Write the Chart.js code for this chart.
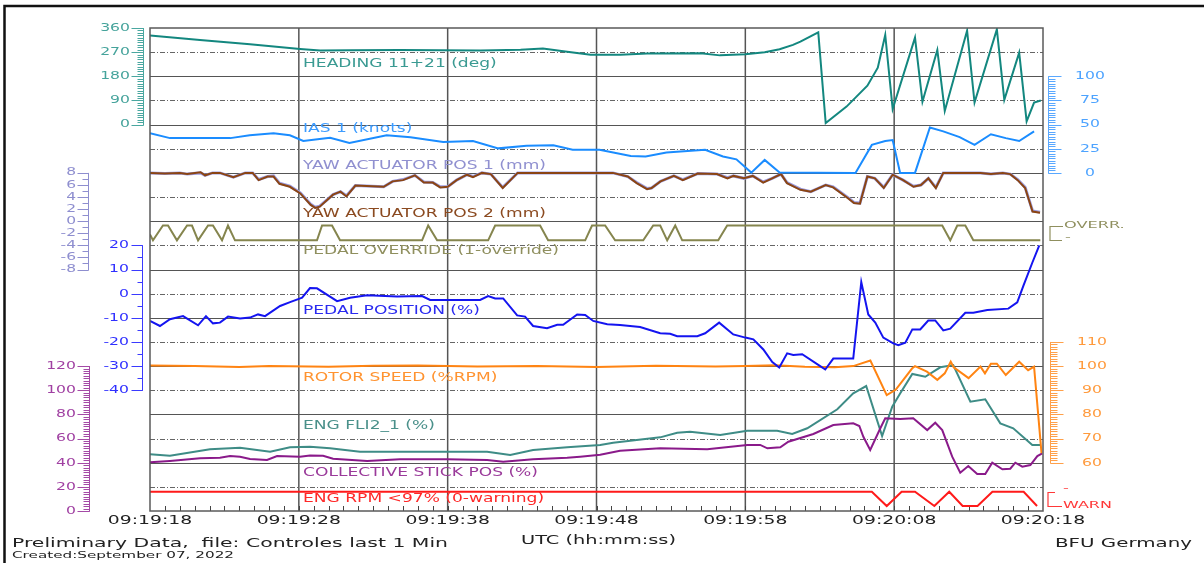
<!DOCTYPE html>
<html>
<head>
<meta charset="utf-8">
<title>Controles last 1 Min</title>
<script src="https://cdn.jsdelivr.net/npm/chart.js@4.4.1/dist/chart.umd.min.js"></script>
<style>
  html, body { margin: 0; padding: 0; background: #fff; }
  #wrap { position: relative; width: 1204px; height: 563px; }
</style>
</head>
<body>
<div id="wrap"><canvas id="flight" width="1204" height="563"></canvas></div>
<script>
// time axis: seconds after 09:19:18 UTC
const xTickSec = [0, 10, 20, 30, 40, 50, 60];
const xTickLabels = ['09:19:18', '09:19:28', '09:19:38', '09:19:48', '09:19:58', '09:20:08', '09:20:18'];

// HEADING 11+21 (deg)
const headT = [0, 3.36, 6.72, 10.08, 11.43, 13.44, 16.8, 19.5, 22.2, 24.9, 26.4, 27.9, 29.6, 31.6, 33.4, 37.0, 38.3, 40.0, 41.3, 42.3, 43.2, 43.7, 44.9, 45.4, 46.8, 48.2, 48.9, 49.4, 49.9, 51.4, 51.9, 52.9, 53.4, 54.9, 55.4, 56.9, 57.4, 58.4, 58.9, 59.4, 59.85];
const headV = [332, 315, 299, 282, 276, 277, 278, 277, 276, 279, 284, 272, 260, 260, 265, 266, 258, 262, 270, 281, 297, 309, 344, 6, 67, 145, 212, 334, 58, 324, 85, 278, 51, 350, 82, 355, 92, 268, 12, 82, 90];

// IAS 1 (knots)
const iasT = [0, 1.34, 5.4, 6.7, 8.3, 9.4, 10.3, 11.4, 12.1, 13.4, 15.9, 17.5, 19.7, 21.7, 23.4, 25.3, 27.1, 28.4, 30.2, 32.3, 33.3, 34.7, 37.3, 38.5, 39.4, 40.4, 41.3, 42.3, 47.4, 48.5, 49.4, 49.9, 50.4, 51.4, 52.4, 53.3, 54.4, 55.4, 56.5, 57.5, 58.4, 59.4];
const iasV = [41, 36, 36, 39, 41, 39, 33, 35, 36.4, 31, 39, 37, 32, 33, 25.4, 28, 28.5, 24, 24, 17.5, 17, 21, 24, 17, 14, 0.3, 13.4, 0.3, 0, 29, 33, 34, 0, 0, 47, 43, 37, 29, 40, 36, 33, 43];

// YAW ACTUATOR POS 1 / POS 2 (mm)
const yawT = [0, 1.0, 2.0, 2.5, 3.4, 3.7, 4.2, 4.7, 5.6, 6.4, 6.9, 7.3, 7.9, 8.3, 8.7, 9.4, 10.1, 10.8, 11.1, 11.4, 12.3, 12.8, 13.2, 13.8, 15.7, 16.3, 17.0, 17.8, 18.4, 19.0, 19.5, 20.0, 20.6, 21.3, 21.7, 22.3, 22.9, 23.7, 24.7, 30.3, 31.1, 32.1, 32.7, 33.4, 33.7, 34.3, 35.2, 35.8, 36.8, 38.1, 38.8, 39.2, 39.9, 40.5, 41.2, 41.8, 42.4, 42.8, 43.7, 44.4, 45.4, 45.9, 46.9, 47.3, 47.7, 48.2, 48.7, 49.3, 49.9, 50.6, 51.3, 51.8, 52.3, 52.8, 53.3, 55.8, 56.5, 57.3, 57.8, 58.3, 58.8, 59.3, 59.8];
const yaw1V = [8.0, 7.9, 8.0, 7.8, 8.0, 7.6, 8.0, 8.0, 7.3, 8.0, 8.0, 6.9, 7.4, 7.5, 6.3, 5.8, 4.7, 2.8, 2.3, 2.5, 4.4, 4.9, 4.2, 5.9, 5.7, 6.6, 6.9, 7.6, 6.5, 6.4, 5.7, 5.7, 6.8, 7.7, 7.4, 8.0, 7.8, 5.6, 8.0, 8.0, 8.0, 7.4, 6.4, 5.4, 5.5, 6.6, 7.5, 6.9, 7.9, 7.8, 7.2, 7.5, 7.1, 7.5, 6.5, 7.1, 7.8, 6.4, 5.3, 4.9, 6.0, 5.7, 3.9, 3.1, 3.0, 7.4, 7.1, 5.6, 7.7, 6.8, 5.8, 6.0, 7.1, 5.6, 8.0, 8.0, 7.8, 8.0, 7.8, 6.9, 5.6, 1.7, 1.5];
const yaw2V = [8.0, 7.9, 8.0, 7.8, 8.1, 7.6, 8.0, 8.0, 7.3, 8.0, 8.0, 6.8, 7.4, 7.4, 6.2, 5.7, 4.6, 2.7, 2.2, 2.4, 4.4, 4.9, 4.1, 5.9, 5.7, 6.6, 6.8, 7.6, 6.4, 6.4, 5.6, 5.7, 6.8, 7.7, 7.3, 8.0, 7.8, 5.5, 8.0, 8.0, 8.0, 7.4, 6.3, 5.3, 5.5, 6.6, 7.5, 6.8, 7.9, 7.8, 7.1, 7.5, 7.1, 7.5, 6.4, 7.1, 7.8, 6.3, 5.2, 4.9, 6.0, 5.6, 3.8, 3.0, 2.9, 7.4, 7.1, 5.5, 7.7, 6.8, 5.7, 6.0, 7.1, 5.5, 8.0, 8.0, 7.8, 8.0, 7.8, 6.8, 5.5, 1.6, 1.4];

// PEDAL OVERRIDE (1-override)
const ovrT = [0, 0.2, 0.87, 1.21, 1.81, 2.49, 2.82, 3.23, 3.9, 4.23, 4.84, 5.24, 5.71, 11.22, 11.56, 12.23, 12.77, 18.28, 18.69, 19.29, 22.72, 23.19, 26.21, 26.75, 29.24, 29.70, 30.58, 31.25, 33.14, 33.81, 34.28, 34.75, 35.29, 35.76, 38.18, 38.78, 53.23, 53.77, 54.24, 54.78, 55.32, 59.82];
const ovrV = [0.4, 0, 1, 1, 0, 1, 1, 0, 1, 1, 0, 1, 0, 0, 1, 1, 0, 0, 1, 0, 0, 1, 1, 0, 0, 1, 1, 0, 0, 1, 1, 0, 1, 0, 0, 1, 1, 0, 1, 1, 0, 0];

// PEDAL POSITION (%)
const pedT = [0, 0.67, 1.34, 2.22, 3.23, 3.76, 4.23, 4.70, 5.24, 6.05, 6.72, 7.26, 7.73, 8.74, 9.41, 10.22, 10.75, 11.22, 12.57, 13.44, 14.59, 16.60, 18.28, 18.82, 22.18, 22.72, 23.19, 23.73, 24.67, 25.20, 25.74, 26.68, 27.36, 27.76, 28.70, 29.24, 29.78, 30.72, 31.58, 32.93, 34.28, 34.95, 35.42, 36.77, 37.30, 38.24, 39.19, 40.00, 40.54, 41.21, 41.81, 42.28, 42.81, 43.22, 43.82, 45.03, 45.37, 45.91, 47.25, 47.79, 48.26, 48.73, 49.27, 49.94, 50.28, 50.75, 51.22, 51.75, 52.29, 52.76, 53.30, 53.77, 54.78, 55.32, 56.26, 57.67, 58.27, 58.68, 59.28, 59.75];
const pedV = [-11.3, -13.4, -10.6, -9.3, -13.1, -9.3, -12.3, -12, -9.5, -10.3, -9.9, -8.6, -9.3, -5.1, -3.5, -1.7, 2.3, 2.2, -3.1, -1.7, -0.7, -1.2, -1.0, -2.6, -2.6, -1.0, -2.0, -2.0, -9.0, -9.5, -13.4, -14.3, -12.9, -12.9, -8.6, -8.8, -11.3, -12.7, -13.0, -13.8, -16.4, -16.6, -17.6, -17.6, -16.4, -12.0, -16.9, -18.2, -18.9, -23.1, -28.3, -30.6, -24.7, -25.4, -25.1, -30, -31.4, -26.9, -26.9, 4.8, -8.6, -12, -18.2, -20.6, -21.3, -20.3, -14.8, -14.8, -11.1, -11.1, -15.2, -14.5, -7.9, -7.9, -6.8, -6.2, -3.6, 3.2, 12.8, 20];

// ROTOR SPEED (%RPM)
const rotT = [0, 3, 6, 8, 12, 15, 18, 22, 26, 30, 34, 38, 40, 42, 44, 46, 47.25, 48.4, 49.5, 50.1, 51.2, 51.4, 52.2, 52.9, 53.4, 53.8, 54.0, 55.0, 55.8, 56.1, 56.5, 56.9, 57.5, 58.4, 59.0, 59.4, 59.9];
const rotV = [100.2, 100, 99.6, 100, 99.7, 100.1, 100.3, 99.8, 100, 99.6, 100.1, 99.8, 100, 100.3, 99.7, 99.5, 100, 102.3, 88, 90.2, 99, 100, 97.7, 94.3, 97, 101.8, 99.5, 95, 99.8, 97, 101, 101, 96.3, 101.8, 98.3, 99.8, 64];

// ENG FLI2_1 (%)
const fliT = [0, 1.34, 4.03, 6.05, 8.07, 9.41, 10.75, 12.10, 14.11, 16.80, 19.96, 22.65, 24.20, 25.74, 28.03, 30.25, 31.12, 34.28, 35.42, 36.29, 38.31, 40.13, 42.14, 43.15, 44.16, 46.18, 47.25, 48.12, 49.19, 49.87, 50.41, 51.22, 52.09, 53.10, 53.97, 55.12, 56.12, 57.13, 58.00, 59.28, 59.82];
const fliV = [47, 45.8, 51.1, 52.4, 49.1, 52.7, 53.3, 51.9, 49.1, 49.1, 49.1, 49.1, 46.4, 50.5, 52.7, 54.7, 56.6, 61, 64.8, 65.7, 62.9, 66.5, 66.5, 63.8, 68.5, 84.2, 97.5, 103.5, 62.1, 86.4, 97.5, 113.5, 111.2, 119, 120.9, 90.5, 92.5, 72.6, 68.5, 54.7, 54.7];

// COLLECTIVE STICK POS (%)
const colT = [0, 1.34, 3.36, 4.70, 5.38, 6.05, 6.72, 7.86, 8.54, 10.08, 10.75, 11.63, 12.30, 14.59, 16.80, 19.96, 22.65, 23.73, 25.74, 28.03, 28.90, 30.25, 31.58, 34.28, 37.44, 40.13, 41.00, 41.48, 42.35, 42.89, 44.57, 45.91, 47.25, 47.66, 47.93, 48.39, 49.07, 49.40, 50.41, 51.28, 52.22, 52.76, 53.23, 53.90, 54.44, 54.98, 55.58, 56.12, 56.59, 57.27, 57.80, 58.14, 58.61, 59.15, 59.62, 59.95];
const colV = [40.3, 41.4, 43.6, 44.2, 45.5, 45, 43.1, 42.2, 45.5, 45, 46, 45.8, 43.3, 41.4, 42.8, 42.8, 42.2, 40.8, 42.8, 44.1, 45, 46.5, 49.9, 51.9, 51.1, 54.7, 54.7, 51.9, 52.7, 57.4, 63.8, 71.2, 72.6, 70.4, 61.5, 50.5, 68.5, 76.8, 76.2, 76.8, 67, 73.1, 67, 45, 31.7, 37.3, 30.6, 30.6, 40, 34.5, 35, 40, 36.7, 38.1, 45.5, 47.8];

// ENG RPM <97% (0-warning)
const rpmT = [0, 48.5, 49.5, 50.5, 51.4, 52.7, 53.7, 54.6, 55.6, 56.6, 58.7, 59.6];
const rpmV = [1, 1, 0, 1, 1, 0, 1, 0, 0, 1, 1, 0];

// axis tick values
const headTicks = [0, 90, 180, 270, 360];
const iasTicks = [0, 25, 50, 75, 100];
const yawTicks = [-8, -6, -4, -2, 0, 2, 4, 6, 8];
const pedTicks = [-40, -30, -20, -10, 0, 10, 20];
const rotTicks = [60, 70, 80, 90, 100, 110];
const colTicks = [0, 20, 40, 60, 80, 100, 120];

const FONT = '"DejaVu Sans", Verdana, sans-serif';

function pts(ts, vs) {
  return ts.map((t, i) => ({ x: t, y: vs[i] }));
}

function line(label, ts, vs, axis, color, extra) {
  return Object.assign({
    label: label,
    data: pts(ts, vs),
    yAxisID: axis,
    borderColor: color,
    borderWidth: 2,
    pointRadius: 0,
    tension: 0,
    fill: false
  }, extra || {});
}

// draw horizontally stretched text (the source export is wide)
function txt(ctx, s, x, y, size, color, align, sx) {
  ctx.save();
  ctx.font = size + 'px ' + FONT;
  ctx.fillStyle = color;
  ctx.textAlign = align;
  ctx.textBaseline = 'middle';
  ctx.translate(x, y);
  ctx.scale(sx, 1);
  ctx.fillText(s, 0, 0);
  ctx.restore();
}

function txtW(ctx, s, x, y, size, color, align, width) {
  ctx.save();
  ctx.font = size + 'px ' + FONT;
  const sx = width / ctx.measureText(s).width;
  ctx.restore();
  txt(ctx, s, x, y, size, color, align, sx);
}

// ruler-like axis; side -1 = ticks to the left, +1 = to the right
function ruler(ctx, scale, x, ticks, minorStep, side, majLen, minLen, color, labelColor, size, sx, labelX, align) {
  const lo = ticks[0], hi = ticks[ticks.length - 1];
  ctx.save();
  ctx.strokeStyle = color;
  ctx.lineWidth = 1;
  ctx.beginPath();
  ctx.moveTo(x + 0.5, scale.getPixelForValue(hi));
  ctx.lineTo(x + 0.5, scale.getPixelForValue(lo) + 0.5);
  for (let v = lo; v <= hi + 1e-6; v += minorStep) {
    const y = Math.round(scale.getPixelForValue(v)) + 0.5;
    ctx.moveTo(x + 0.5, y);
    ctx.lineTo(x + 0.5 + side * minLen, y);
  }
  ticks.forEach(v => {
    const y = Math.round(scale.getPixelForValue(v)) + 0.5;
    ctx.moveTo(x + 0.5, y);
    ctx.lineTo(x + 0.5 + side * majLen, y);
  });
  ctx.stroke();
  ctx.restore();
  ticks.forEach(v => txt(ctx, String(v), labelX, scale.getPixelForValue(v), size, labelColor, align, sx));
}

// two-state bracket used for OVERR. and WARN
function bracket(ctx, scale, x, topLen, botLen, color) {
  const y1 = Math.round(scale.getPixelForValue(1)) + 0.5;
  const y0 = Math.round(scale.getPixelForValue(0)) + 0.5;
  ctx.save();
  ctx.strokeStyle = color;
  ctx.lineWidth = 1.2;
  ctx.beginPath();
  ctx.moveTo(x + topLen, y1);
  ctx.lineTo(x, y1);
  ctx.lineTo(x, y0);
  ctx.lineTo(x + botLen, y0);
  ctx.stroke();
  ctx.restore();
}

const seriesLabels = [
  ['HEADING 11+21 (deg)', 64.5, '#3a9a92'],
  ['IAS 1 (knots)', 129.5, '#3d9cff'],
  ['YAW ACTUATOR POS 1 (mm)', 166.5, '#9090d0'],
  ['YAW ACTUATOR POS 2 (mm)', 214, '#8b4a20'],
  ['PEDAL OVERRIDE (1-override)', 251.5, '#8f8f5e'],
  ['PEDAL POSITION (%)', 311, '#2a2af0'],
  ['ROTOR SPEED (%RPM)', 378, '#ff9330'],
  ['ENG FLI2_1 (%)', 426.5, '#4a908a'],
  ['COLLECTIVE STICK POS (%)', 473.5, '#9a3a9a'],
  ['ENG RPM <97% (0-warning)', 499, '#ff2828']
];

const backdrop = {
  id: 'backdrop',
  beforeDatasetsDraw(chart) {
    const { ctx, chartArea: a, scales } = chart;
    const xs = scales.x;
    ctx.save();
    // horizontal grid: solid and dash-dot alternately
    const step = (a.bottom - a.top) / 20;
    for (let i = 1; i < 20; i++) {
      const y = Math.round(a.top + i * step) + 0.5;
      ctx.beginPath();
      if (i % 2 === 0) {
        ctx.setLineDash([]);
        ctx.strokeStyle = '#555';
        ctx.lineWidth = 1;
      } else {
        ctx.setLineDash([5, 2, 1, 2]);
        ctx.strokeStyle = '#666';
        ctx.lineWidth = 1;
      }
      ctx.moveTo(a.left, y);
      ctx.lineTo(a.right, y);
      ctx.stroke();
    }
    ctx.setLineDash([]);
    // vertical grid at each labelled second
    ctx.strokeStyle = '#555';
    ctx.lineWidth = 1.5;
    xTickSec.slice(1, -1).forEach(t => {
      const x = xs.getPixelForValue(t);
      ctx.beginPath();
      ctx.moveTo(x, a.top);
      ctx.lineTo(x, a.bottom);
      ctx.stroke();
    });
    // one-second ticks on the time axis
    ctx.strokeStyle = '#444';
    ctx.lineWidth = 1;
    ctx.beginPath();
    for (let t = 1; t < 60; t++) {
      const x = Math.round(xs.getPixelForValue(t)) + 0.5;
      ctx.moveTo(x, a.bottom);
      ctx.lineTo(x, a.bottom - 5);
    }
    ctx.stroke();
    ctx.restore();
    // in-plot series names
    seriesLabels.forEach(l => txt(ctx, l[0], 303, l[1], 11.4, l[2], 'left', 1.5));
  },
  afterDraw(chart) {
    const { ctx, chartArea: a, scales: s } = chart;
    ctx.save();
    ctx.strokeStyle = '#5a5a5a';
    ctx.lineWidth = 1.5;
    ctx.strokeRect(a.left, a.top, a.right - a.left, a.bottom - a.top);
    ctx.restore();

    // left rulers
    ruler(ctx, s.head, 143, headTicks, 9, -1, 12, 6, '#4aa7a0', '#45a39b', 11, 1.42, 130, 'right');
    ruler(ctx, s.yaw, 88, yawTicks, 1, -1, 11, 6, '#8e8ecf', '#8e8ecf', 10, 1.55, 76, 'right');
    ruler(ctx, s.ped, 142, pedTicks, 5, -1, 11, 5, '#3a3aff', '#3030ff', 11, 1.42, 129, 'right');
    ruler(ctx, s.col, 89, colTicks, 2, -1, 12, 6, '#a44aa6', '#a040a2', 11, 1.42, 76, 'right');
    // right rulers
    ruler(ctx, s.ias, 1048, iasTicks, 2.5, 1, 13, 7, '#5aa8ff', '#4da3ff', 11, 1.42, 1090, 'center');
    ruler(ctx, s.rot, 1050, rotTicks, 1, 1, 13, 7, '#ffa04a', '#ff9a3c', 11, 1.42, 1092, 'center');

    // two-state markers
    bracket(ctx, s.ovr, 1050, 13, 12, '#8f8f5e');
    txt(ctx, 'OVERR.', 1064, s.ovr.getPixelForValue(1), 9.5, '#8f8f5e', 'left', 1.7);
    txt(ctx, '-', 1065, s.ovr.getPixelForValue(0) - 3, 9.5, '#8f8f5e', 'left', 1.7);
    bracket(ctx, s.rpm, 1048, 7, 14, '#ff3838');
    txt(ctx, 'WARN', 1063, s.rpm.getPixelForValue(0), 9.5, '#ff3838', 'left', 1.68);
    txt(ctx, '-', 1063, s.rpm.getPixelForValue(1) - 3, 9.5, '#ff3838', 'left', 1.7);

    // time labels
    xTickSec.forEach((t, i) => txt(ctx, xTickLabels[i], s.x.getPixelForValue(t), 521.5, 11.4, '#222', 'center', 1.65));

    // footer
    txtW(ctx, 'Preliminary Data,  file: Controles last 1 Min', 12, 544, 11.5, '#222', 'left', 436);
    txtW(ctx, 'Created:September 07, 2022', 12, 556, 8.7, '#222', 'left', 222);
    txtW(ctx, 'UTC (hh:mm:ss)', 521, 541, 11.5, '#222', 'left', 155);
    txtW(ctx, 'BFU Germany', 1192, 544.5, 11.5, '#222', 'right', 137);

    // outer frame (right and bottom edges run off the picture)
    ctx.save();
    ctx.strokeStyle = '#111';
    ctx.lineWidth = 2.5;
    ctx.strokeRect(4.5, 6, 1210, 600);
    ctx.restore();
  }
};

const datasets = [
  line('HEADING 11+21 (deg)', headT, headV, 'head', '#13877f'),
  line('IAS 1 (knots)', iasT, iasV, 'ias', '#1a8cff'),
  line('YAW ACTUATOR POS 2 (mm)', yawT, yaw2V, 'yaw', '#8b4513'),
  line('YAW ACTUATOR POS 1 (mm)', yawT, yaw1V, 'yaw', '#9c9ce0', { borderWidth: 3, order: 1 }),
  line('PEDAL OVERRIDE (1-override)', ovrT, ovrV, 'ovr', '#85854e'),
  line('PEDAL POSITION (%)', pedT, pedV, 'ped', '#1414f0'),
  line('ROTOR SPEED (%RPM)', rotT, rotV, 'rot', '#ff8412'),
  line('COLLECTIVE STICK POS (%)', colT, colV, 'col', '#8a1a8a'),
  line('ENG FLI2_1 (%)', fliT, fliV, 'col', '#3e8c86'),
  line('ENG RPM <97% (0-warning)', rpmT, rpmV, 'rpm', '#ff1a1a')
];

// every value axis is vertical; say so explicitly (ids like 'rot' would otherwise read as radial)
const hidden = (min, max, axis) => ({ type: 'linear', axis: axis || 'y', display: false, min: min, max: max });

new Chart(document.getElementById('flight').getContext('2d'), {
  type: 'line',
  data: { datasets: datasets },
  options: {
    responsive: false,
    animation: false,
    events: [],
    layout: { padding: { left: 150, right: 161, top: 28, bottom: 52 } },
    plugins: { legend: { display: false }, tooltip: { enabled: false } },
    scales: {
      x: hidden(0, 60, 'x'),
      head: hidden(-1440, 360),
      ias: hidden(-350, 150),
      yaw: hidden(-48, 32),
      ovr: hidden(-18.29, 14.345),
      ped: hidden(-90, 110),
      rot: hidden(40, 240),
      col: hidden(0, 400),
      rpm: hidden(-0.35, 33.45)
    }
  },
  plugins: [backdrop]
});
</script>
</body>
</html>
